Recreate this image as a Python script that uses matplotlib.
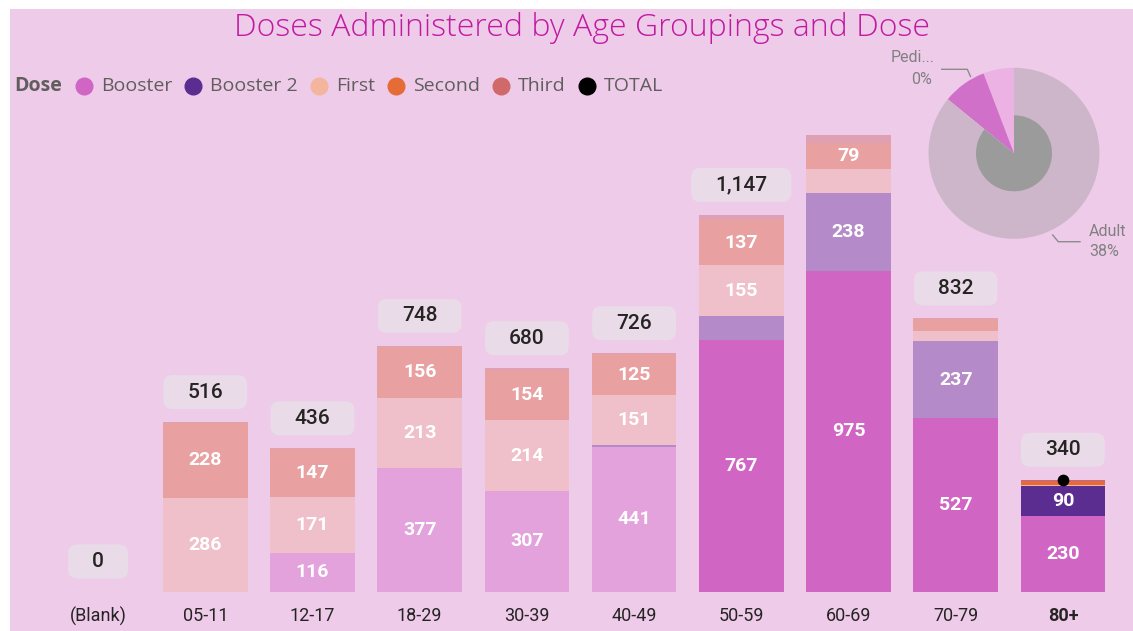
import matplotlib
matplotlib.use('Agg')
import matplotlib.pyplot as plt
from matplotlib.patches import Rectangle, FancyBboxPatch, Wedge
from matplotlib.lines import Line2D
import numpy as np

# ---------------- data ----------------
categories = ['(Blank)', '05-11', '12-17', '18-29', '30-39', '40-49', '50-59', '60-69', '70-79', '80+']
booster  = [0, 0, 116, 377, 307, 441, 767, 975, 527, 230]
booster2 = [0, 0, 0, 0, 0, 5, 71, 238, 237, 90]
first    = [0, 286, 171, 213, 214, 151, 155, 74, 30, 5]
second   = [0, 228, 147, 156, 154, 125, 137, 79, 36, 8]
third    = [0, 2, 2, 2, 5, 4, 17, 25, 2, 7]
highlighted = ['80+']
legend_names = ['Booster', 'Booster 2', 'First', 'Second', 'Third', 'TOTAL']
donut_names = ['Pediatric', 'Other', 'Adult']
donut_values = [5.8, 8.3, 85.9]
donut_label_pedi = ['Pedi...', '0%']
donut_label_adult = ['Adult', '38%']

# ---------------- styles ----------------
W, H = 1133, 631
BG = '#EFCBEA'
full = {'Booster': '#D065C4', 'Booster 2': '#5C2D91', 'First': '#F4B59E',
        'Second': '#E66C37', 'Third': '#D06A6A', 'TOTAL': '#000000'}
faded = {'Booster': '#E3A2DC', 'Booster 2': '#B48AC8', 'First': '#F0C0CA',
         'Second': '#E9A0A0', 'Third': '#E0A0B4'}
booster_full_cats = ['50-59', '60-69', '70-79', '80+']

def fx(px):
    return px / W

def fy(py):
    return 1 - py / H

fig = plt.figure(figsize=(W / 100, H / 100), dpi=100)
fig.patch.set_facecolor('white')
fig.add_artist(Rectangle((fx(10), fy(631)), 1 - fx(10), fy(9) - fy(631),
                         transform=fig.transFigure, facecolor=BG,
                         edgecolor='none', zorder=-10))

ax = fig.add_axes([fx(44.5), fy(591.5), fx(1116.5) - fx(44.5), fy(120) - fy(591.5)])
ax.set_facecolor('none')
ax.set_xlim(-0.5, len(categories) - 0.5)
ax.set_ylim(0, 1436)
for s in ax.spines.values():
    s.set_visible(False)
ax.set_yticks([])

x = np.arange(len(categories))
series = [('Booster', booster), ('Booster 2', booster2), ('First', first),
          ('Second', second), ('Third', third)]

def seg_color(name, cat):
    if cat in highlighted:
        return full[name]
    if name == 'Booster' and cat in booster_full_cats:
        return full[name]
    return faded[name]

NUMFONT = ['Roboto', 'DejaVu Sans']
bottoms = np.zeros(len(categories))
for name, vals in series:
    vals = np.array(vals, dtype=float)
    cols = [seg_color(name, c) for c in categories]
    ax.bar(x, vals, width=0.79, bottom=bottoms, color=cols, linewidth=0, zorder=2)
    for xi, b, v in zip(x, bottoms, vals):
        if v >= 75:
            ax.text(xi, b + v / 2, f'{int(v)}', ha='center', va='center', color='white',
                    fontsize=14, fontweight='bold', family=NUMFONT, zorder=4)
    bottoms = bottoms + vals

totals = bottoms
renderer = fig.canvas.get_renderer()
ylim_top = ax.get_ylim()[1]
px_per_unit = (591.5 - 120) / ylim_top
for xi, t in zip(x, totals):
    label_off_px = 30
    if t + (label_off_px + 17) / px_per_unit > ylim_top:
        continue
    txt = ax.annotate(f'{int(t):,}', (xi, t), xytext=(0, label_off_px * 0.72),
                      textcoords='offset points', ha='center', va='center',
                      color='#252423', fontsize=15, fontweight='medium',
                      family=NUMFONT, zorder=5, annotation_clip=False)
    bb = txt.get_window_extent(renderer)
    cx = (bb.x0 + bb.x1) / 2
    cy = ax.transData.transform((xi, t))[1] + label_off_px
    bw = bb.width + 48
    bh = 34
    box = FancyBboxPatch(((cx - bw / 2) / W, (cy - bh / 2) / H), bw / W, bh / H,
                         boxstyle='round,pad=0,rounding_size=%f' % (9 / W),
                         mutation_aspect=W / H, transform=fig.transFigure,
                         facecolor='#E9DCE8', edgecolor='none', zorder=3, clip_on=False)
    ax.add_patch(box)
    box.set_transform(fig.transFigure)

# TOTAL marker for highlighted category
tot_x = [xi for xi, c in zip(x, categories) if c in highlighted]
tot_y = [t for t, c in zip(totals, categories) if c in highlighted]
ax.scatter(tot_x, tot_y, s=55, color='black', zorder=6, clip_on=False)

ax.set_xticks(x)
ax.set_xticklabels(categories, family=NUMFONT, fontsize=13, color='#252423')
ax.tick_params(axis='x', length=0, pad=11)
for lab in ax.get_xticklabels():
    if lab.get_text() in highlighted:
        lab.set_fontweight('bold')

# ---------------- title ----------------
TFONT = ['Open Sans', 'DejaVu Sans']
fig.text(fx(582), fy(28), 'Doses Administered by Age Groupings and Dose', ha='center',
         va='center', fontsize=23, fontweight='light', color='#C01BA0', family=TFONT)

# ---------------- legend ----------------
ly = fy(86)
t = fig.text(fx(14), ly, 'Dose', ha='left', va='center', fontsize=14,
             fontweight='bold', color='#605E5C', family=TFONT)
xcur = t.get_window_extent(renderer).x1 + 14
for name in legend_names:
    fig.add_artist(Line2D([fx(xcur + 8)], [ly], marker='o', markersize=12,
                          color=full[name], linestyle='none',
                          transform=fig.transFigure))
    tt = fig.text(fx(xcur + 25), ly, name, ha='left', va='center', fontsize=14,
                  color='#605E5C', family=TFONT)
    xcur = tt.get_window_extent(renderer).x1 + 13

# ---------------- donut ----------------
dax = fig.add_axes([fx(914), fy(253.3), 200 / W, 200 / H])
wedges, _ = dax.pie(donut_values, colors=['#ECB2E4', '#D070C8', '#CDB6C9'],
                    startangle=90, counterclock=True, radius=0.855,
                    wedgeprops=dict(linewidth=0))
adult = wedges[2]
dax.add_patch(Wedge((0, 0), 0.38, adult.theta1, adult.theta2, color='#9B9B9B', linewidth=0))
dax.set_xlim(-1, 1)
dax.set_ylim(-1, 1)
dax.axis('off')

lc = '#8C8C8C'
fig.add_artist(Line2D([fx(941.7), fx(967.3), fx(970.5)], [fy(69.3), fy(69.3), fy(76.5)],
                      transform=fig.transFigure, color=lc, lw=1))
fig.add_artist(Line2D([fx(1052.7), fx(1058.3), fx(1080)], [fy(235), fy(241.7), fy(241.7)],
                      transform=fig.transFigure, color=lc, lw=1))
pc = '#808080'
fig.text(fx(935), fy(57), donut_label_pedi[0], ha='right', va='center', fontsize=11.5,
         color=pc, family=NUMFONT)
fig.text(fx(932), fy(79), donut_label_pedi[1], ha='right', va='center', fontsize=11.5,
         color=pc, family=NUMFONT)
fig.text(fx(1089), fy(231), donut_label_adult[0], ha='left', va='center', fontsize=11.5,
         color=pc, family=NUMFONT)
fig.text(fx(1089), fy(251), donut_label_adult[1], ha='left', va='center', fontsize=11.5,
         color=pc, family=NUMFONT)

fig.savefig('out.png', dpi=100, facecolor='white')
